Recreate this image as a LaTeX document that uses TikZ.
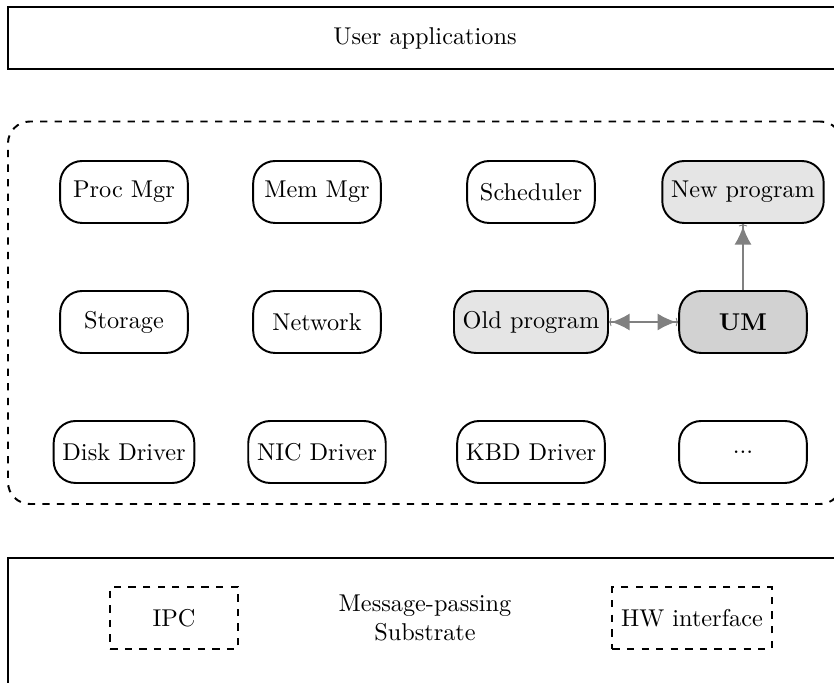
\documentclass[tikz,border=0pt]{standalone}
\usetikzlibrary{arrows.meta}
\begin{document}
\begin{tikzpicture}[x=0.4115pt, y=-0.4115pt,
  layer/.style={draw, thick, minimum width=343.2pt, inner sep=0pt},
  module/.style={draw, thick, rounded corners=9pt, minimum width=52.5pt,
    minimum height=25.5pt, inner xsep=3.6pt, align=center},
  changed/.style={module, fill=gray!20},
  updater/.style={module, fill=gray!35, font=\bfseries},
  part/.style={draw, thick, dashed, minimum width=52.5pt, minimum height=25.5pt,
    inner xsep=3.6pt},
  flow/.style={draw=gray, fill=gray, line width=0.6pt}
]
\useasboundingbox (0,0) rectangle (834,683);
\clip (0,0) rectangle (834,683);

% layers
\node (apps) [layer, minimum height=25.5pt] at (425,38) {User applications};
\node (core) [draw, thick, dashed, rounded corners=9pt, minimum width=343.2pt,
  minimum height=157.4pt] at (425,312.75) {};
\node (substrate) [layer, minimum height=66.5pt] at (425,638.5) {};

% system servers
\node (proc)  [module]  at (124,192) {Proc Mgr};
\node (mem)   [module]  at (317,192) {Mem Mgr};
\node (sched) [module]  at (531,192) {Scheduler};
\node (new)   [changed] at (743,192) {New program};

\node (stor)  [module]  at (124,322) {Storage};
\node (net)   [module]  at (317,322) {Network};
\node (old)   [changed] at (531,322) {Old program};
\node (um)    [updater] at (743,322) {UM};

\node (disk)  [module]  at (124,452) {Disk Driver};
\node (nic)   [module]  at (317,452) {NIC Driver};
\node (kbd)   [module]  at (531,452) {KBD Driver};
\node (more)  [module]  at (743,452) {...};

% substrate parts
\node (ipc) [part] at (174,618) {IPC};
\node (mp)  [align=center] at (425,618) {Message-passing\\Substrate};
\node (hw)  [part] at (692,618) {HW interface};

% update flows
\draw[flow, {To[length=1pt, width=3.5pt, line width=0.35pt] Latex[length=7.5pt, width=7pt]}-{Latex[length=7.5pt, width=7pt] To[length=1pt, width=3.5pt, line width=0.35pt]}] (old) -- (um);
\draw[flow, -{Latex[length=7.5pt, width=7pt] To[length=1pt, width=3.5pt, line width=0.35pt]}] (um) -- (new);
\end{tikzpicture}
\end{document}
